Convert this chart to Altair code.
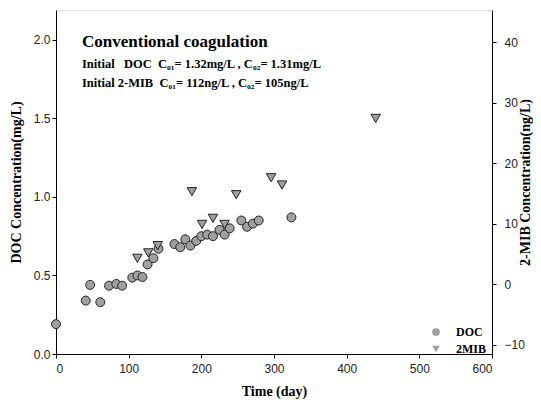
import altair as alt
import pandas as pd

doc_day = [0, 41, 47, 61, 73, 83, 91, 105, 112, 119, 126, 134, 141, 163, 171, 178, 185, 193, 200, 208, 216, 225, 232, 239, 255, 263, 271, 279, 324]
doc_val = [0.19, 0.34, 0.44, 0.33, 0.435, 0.446, 0.435, 0.486, 0.50, 0.49, 0.57, 0.61, 0.67, 0.70, 0.68, 0.73, 0.69, 0.72, 0.75, 0.76, 0.75, 0.79, 0.76, 0.80, 0.85, 0.81, 0.83, 0.85, 0.87]

mib_day = [112, 127, 140, 187, 201, 216, 232, 248, 296, 311, 440]
mib_val = [4.3, 5.2, 6.4, 15.3, 9.9, 10.9, 9.9, 14.8, 17.6, 16.4, 27.4]

x_ticks = [0, 100, 200, 300, 400, 500, 600]
left_ticks = [0.0, 0.5, 1.0, 1.5, 2.0]
right_ticks = [-10, 0, 10, 20, 30, 40]

NB = "\u00a0"
notes = [
    "Conventional coagulation",
    f"Initial{NB}{NB}{NB}DOC{NB}{NB}C\u2080\u2081= 1.32mg/L , C\u2080\u2082= 1.31mg/L",
    f"Initial 2-MIB{NB}{NB}C\u2080\u2081= 112ng/L , C\u2080\u2082= 105ng/L",
]

doc_df = pd.DataFrame({"day": doc_day, "val": doc_val, "series": "DOC"})
mib_df = pd.DataFrame({"day": mib_day, "val": mib_val, "series": "2MIB"})

SERIF = "Liberation Serif"
SANS = "Liberation Sans"

xscale = alt.Scale(domain=[0, 600], nice=False)
shape_scale = alt.Scale(domain=["DOC", "2MIB"], range=["circle", "triangle-down"])

x_enc = alt.X("day:Q", scale=xscale,
              axis=alt.Axis(values=x_ticks, title="Time (day)", grid=False,
                            tickSize=4, ticks=True, labelPadding=5,
                            titleFontSize=14, titleFont=SERIF, titleFontWeight="bold",
                            titlePadding=10, labelFont=SANS, labelFontSize=12,
                            domainColor="black", tickColor="black", labelColor="#222"))

legend = alt.Legend(title=None, orient="none", legendX=374, legendY=316,
                    labelFont=SERIF, labelFontWeight="bold", labelFontSize=12,
                    labelColor="black", symbolFillColor="#a0a0a0",
                    symbolStrokeColor="#222", symbolSize=60, rowPadding=3,
                    labelOffset=14, symbolType="circle")

doc = alt.Chart(doc_df).mark_point(filled=True, fill="#a0a0a0", stroke="#222",
                                   strokeWidth=1, size=80, opacity=1).encode(
    x=x_enc,
    y=alt.Y("val:Q", scale=alt.Scale(domain=[0, 2.19], nice=False, zero=False),
            axis=alt.Axis(values=left_ticks, format=".1f", orient="left",
                          title="DOC Concentration(mg/L)", grid=False, tickSize=4,
                          titleFontSize=14, titleFont=SERIF, titleFontWeight="bold",
                          titlePadding=10, labelFont=SANS, labelFontSize=12,
                          domainColor="black", tickColor="black", labelColor="#222")),
    shape=alt.Shape("series:N", scale=shape_scale, legend=legend),
)

mib = alt.Chart(mib_df).mark_point(filled=True, fill="#a0a0a0", stroke="#222",
                                   strokeWidth=1, size=90, opacity=1).encode(
    x=alt.X("day:Q", scale=xscale),
    y=alt.Y("val:Q", scale=alt.Scale(domain=[-11.5, 45.3], nice=False, zero=False),
            axis=alt.Axis(values=right_ticks, orient="right",
                          title="2-MIB Concentration(ng/L)", grid=False, tickSize=4,
                          labelPadding=8,
                          titleAngle=270, titleFontSize=14, titleFont=SERIF,
                          titleFontWeight="bold", titlePadding=8, labelFont=SANS,
                          labelFontSize=12, domainColor="black", tickColor="black",
                          labelColor="#222")),
    shape=alt.Shape("series:N", scale=shape_scale, legend=legend),
)

def note(i, y, size):
    df = pd.DataFrame({"t": [notes[i]]})
    return alt.Chart(df).mark_text(
        font=SERIF, fontWeight="bold", fontSize=size, align="left",
        baseline="alphabetic", color="black").encode(
        x=alt.value(26), y=alt.value(y), text="t:N")

chart = alt.layer(doc, mib, note(0, 37, 17), note(1, 58, 12.5), note(2, 77, 12.5)).resolve_scale(
    y="independent"
).properties(
    width=436, height=344,
    autosize=alt.AutoSizeParams(type="none"),
    padding={"left": 48, "top": 2, "right": 41, "bottom": 46},
).configure_view(stroke="black", strokeWidth=1).configure(background="white")

chart.save("out.html", embed_options={"renderer": "svg", "actions": False})
